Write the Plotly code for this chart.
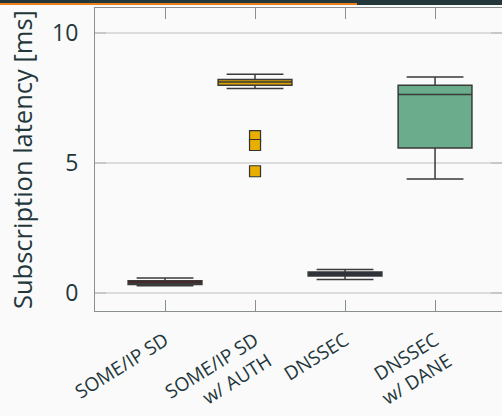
import plotly.graph_objects as go

categories = ["SOME/IP SD", "SOME/IP SD<br>w/ AUTH", "DNSSEC", "DNSSEC<br>w/ DANE"]
lowerfence = [0.27, 7.85, 0.51, 4.37]
q1 = [0.31, 7.98, 0.64, 5.56]
median = [0.37, 8.10, 0.72, 7.62]
q3 = [0.46, 8.20, 0.79, 7.98]
upperfence = [0.56, 8.40, 0.89, 8.30]
fills = ["#5a1010", "#d9a300", "#13213a", "#6aac8c"]

outlier_cat = ["SOME/IP SD<br>w/ AUTH"] * 3
outlier_val = [6.02, 5.68, 4.67]

y_ticks = [0, 5, 10]
y_title = "Subscription latency [ms]"

TEXT = "#23373b"
FRAME = "#8a8f91"

fig = go.Figure()
for c, lf, a, m, b, uf, col in zip(categories, lowerfence, q1, median, q3, upperfence, fills):
    fig.add_trace(go.Box(
        x=[c], lowerfence=[lf], q1=[a], median=[m], q3=[b], upperfence=[uf],
        fillcolor=col, line=dict(color="#3a3a3a", width=1.5),
        width=0.82, whiskerwidth=0.77, showlegend=False, boxpoints=False,
    ))

fig.add_trace(go.Scatter(
    x=outlier_cat, y=outlier_val, mode="markers",
    marker=dict(symbol="square", size=11, color="#e8ae00",
                line=dict(color="#333333", width=1.2)),
    showlegend=False,
))

fig.update_layout(
    width=502, height=416,
    margin=dict(l=95, r=0, t=8, b=105, autoexpand=False),
    paper_bgcolor="#fafafa", plot_bgcolor="#fafafa",
    font=dict(family="Open Sans", color=TEXT),
    xaxis=dict(
        type="category", categoryorder="array", categoryarray=categories,
        range=[-0.778, 3.744], showgrid=False, automargin=False,
        showline=True, linecolor=FRAME, linewidth=1, mirror="ticks",
        ticks="inside", ticklen=11, tickcolor=FRAME, tickwidth=1,
        tickangle=-32, tickfont=dict(size=19, color=TEXT), ticklabelstandoff=10,
    ),
    yaxis=dict(
        range=[-0.706, 10.95], tickvals=y_ticks, ticktext=[str(v) for v in y_ticks],
        showgrid=True, gridcolor="#dcdcdc", gridwidth=1.5, zeroline=False, automargin=False,
        showline=True, linecolor=FRAME, linewidth=1, mirror="ticks",
        ticks="inside", ticklen=11, tickcolor="#c8c8c8", tickwidth=1.5,
        tickfont=dict(size=23, color=TEXT), ticklabelstandoff=11,
    ),
    annotations=[
        dict(text=y_title, xref="paper", yref="paper", x=(22 - 95) / 407, y=(311 - 160) / 303,
             xanchor="center", yanchor="middle", textangle=-90, showarrow=False,
             font=dict(size=25.5, color=TEXT)),
    ],
    shapes=[
        dict(type="rect", xref="paper", yref="paper", x0=-0.24, x1=1.01,
             y0=1 + 3 / 303, y1=1 + 9 / 303, fillcolor="#23373b", line=dict(width=0), layer="above"),
        dict(type="rect", xref="paper", yref="paper", x0=-0.24, x1=(357 - 95) / 407,
             y0=1 + 3 / 303, y1=1 + 5 / 303, fillcolor="#eb811b", line=dict(width=0), layer="above"),
    ],
)

fig.write_html(
    "out.html",
    config={"displayModeBar": False},
    post_script="document.body.style.margin='0';document.body.style.background='#fafafa';",
)
